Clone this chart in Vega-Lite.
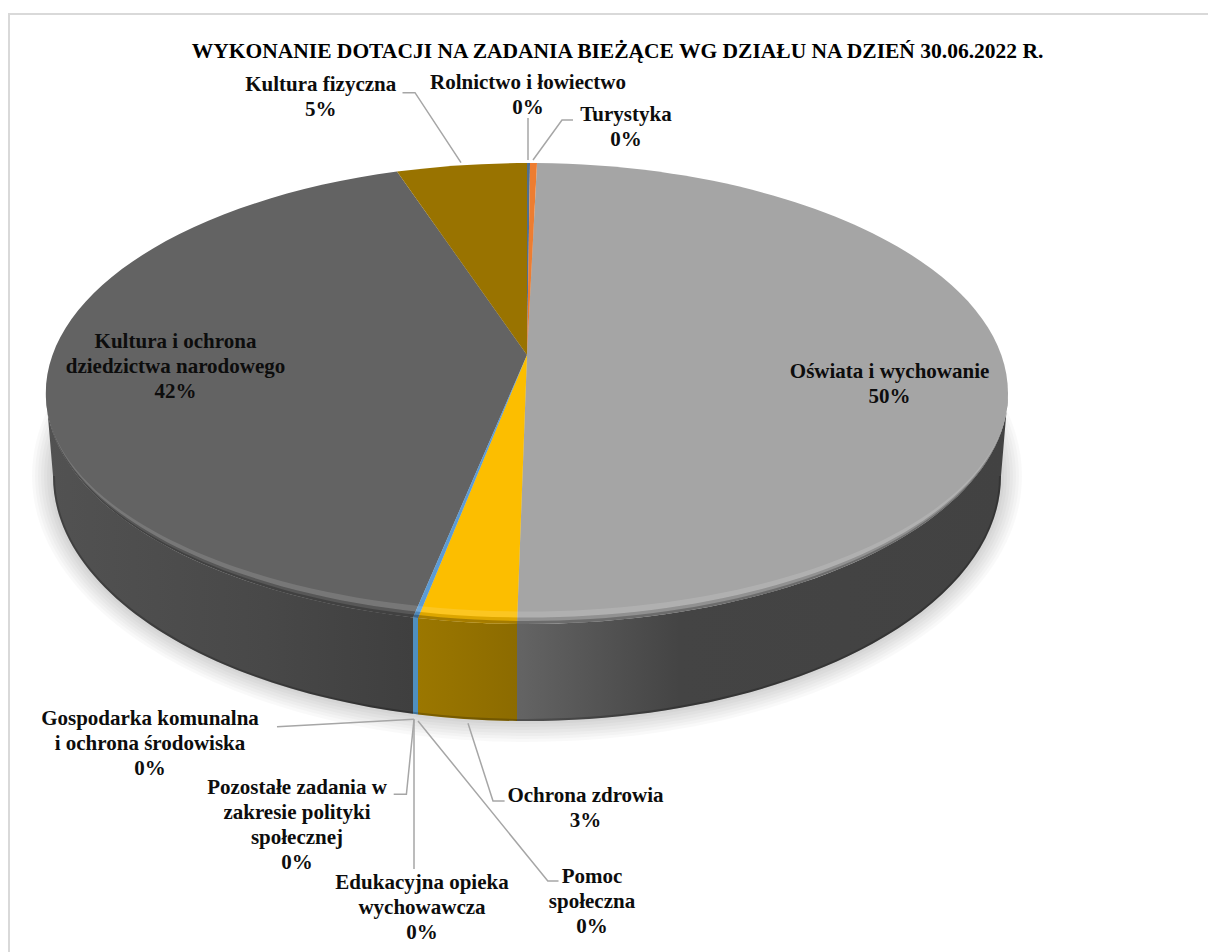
{
"$schema":"https://vega.github.io/schema/vega-lite/v6.json",
"width":1208,"height":952,
"autosize":{"type":"none"},
"padding":0,
"background":"white",
"config":{"view":{"stroke":null}},
"resolve":{"scale":{"shape":"independent"}},
"datasets":{
"halos":[{"halo":"h21","x":527,"y":476},{"halo":"h18","x":527,"y":476},{"halo":"h15","x":527,"y":476},{"halo":"h12","x":527,"y":476},{"halo":"h9","x":527,"y":476},{"halo":"h6","x":527,"y":476},{"halo":"h3","x":527,"y":476}],
"slices":[
{"dzial":"Oświata i wychowanie","udzial":50,"x":527,"y":393.5},
{"dzial":"Kultura i ochrona dziedzictwa narodowego","udzial":42,"x":527,"y":393.5},
{"dzial":"Kultura fizyczna","udzial":5,"x":527,"y":393.5},
{"dzial":"Ochrona zdrowia","udzial":3,"x":527,"y":393.5},
{"dzial":"Gospodarka komunalna i ochrona środowiska","udzial":0.2,"x":527,"y":393.5},
{"dzial":"Rolnictwo i łowiectwo","udzial":0.1,"x":527,"y":393.5},
{"dzial":"Turystyka","udzial":0.3,"x":527,"y":393.5}
],
"centre":[{"x":527,"y":393.5}],
"labels":[
{"x":320.7,"y":85,"label":"Kultura fizyczna\n5%"},
{"x":528,"y":83,"label":"Rolnictwo i łowiectwo\n0%"},
{"x":626,"y":115,"label":"Turystyka\n0%"},
{"x":889.6,"y":372,"label":"Oświata i wychowanie\n50%"},
{"x":175.5,"y":342,"label":"Kultura i ochrona\ndziedzictwa narodowego\n42%"},
{"x":150,"y":719,"label":"Gospodarka komunalna\ni ochrona środowiska\n0%"},
{"x":297,"y":788,"label":"Pozostałe zadania w\nzakresie polityki\nspołecznej\n0%"},
{"x":422,"y":883,"label":"Edukacyjna opieka\nwychowawcza\n0%"},
{"x":585.5,"y":796,"label":"Ochrona zdrowia\n3%"},
{"x":592,"y":877,"label":"Pomoc\nspołeczna\n0%"}
],
"leaders":[
{"to":"Kultura fizyczna","k":1,"x":402.5,"y":92.7},{"to":"Kultura fizyczna","k":2,"x":415,"y":92.7},{"to":"Kultura fizyczna","k":3,"x":461,"y":162.7},
{"to":"Rolnictwo","k":1,"x":528,"y":118},{"to":"Rolnictwo","k":2,"x":528,"y":160},
{"to":"Turystyka","k":1,"x":573,"y":120},{"to":"Turystyka","k":2,"x":562,"y":120},{"to":"Turystyka","k":3,"x":533,"y":160},
{"to":"Gospodarka","k":1,"x":277,"y":726.7},{"to":"Gospodarka","k":2,"x":414,"y":719.3},
{"to":"Pozostałe","k":1,"x":393.7,"y":794.3},{"to":"Pozostałe","k":2,"x":406.4,"y":794.3},{"to":"Pozostałe","k":3,"x":414,"y":719.3},
{"to":"Edukacyjna","k":1,"x":414,"y":869},{"to":"Edukacyjna","k":2,"x":414,"y":719.3},
{"to":"Pomoc","k":1,"x":558.5,"y":881},{"to":"Pomoc","k":2,"x":547.8,"y":881},{"to":"Pomoc","k":3,"x":418,"y":721},
{"to":"Ochrona zdrowia","k":1,"x":504.6,"y":801},{"to":"Ochrona zdrowia","k":2,"x":493,"y":801},{"to":"Ochrona zdrowia","k":3,"x":468,"y":723.3}
],
"frame":[{"x":9,"y":952},{"x":9,"y":14},{"x":1208,"y":14}],
"titleRow":[{"x":617.5,"y":52,"label":"WYKONANIE DOTACJI NA ZADANIA BIEŻĄCE WG DZIAŁU NA DZIEŃ 30.06.2022 R."}]
},
"encoding":{
"x":{"field":"x","type":"quantitative","scale":{"domain":[0,1208],"nice":false,"zero":false},"axis":null},
"y":{"field":"y","type":"quantitative","scale":{"domain":[952,0],"nice":false,"zero":false},"axis":null}
},
"layer":[
{"data":{"name":"frame"},"mark":{"type":"line","stroke":"#d9d9d9","strokeWidth":2}},
{"data":{"name":"halos"},"mark":{"type":"point","filled":true,"size":4,"opacity":0.022,"fill":"#000000"},
"encoding":{
"shape":{"field":"halo","legend":null,"scale":{"domain":["h21","h18","h15","h12","h9","h6","h3"],"range":[
"M-495 0A495 266 0 0 1 495 0A495 266 0 0 1 -495 0Z",
"M-492 0A492 263 0 0 1 492 0A492 263 0 0 1 -492 0Z",
"M-489 0A489 260 0 0 1 489 0A489 260 0 0 1 -489 0Z",
"M-486 0A486 257 0 0 1 486 0A486 257 0 0 1 -486 0Z",
"M-483 0A483 254 0 0 1 483 0A483 254 0 0 1 -483 0Z",
"M-480 0A480 251 0 0 1 480 0A480 251 0 0 1 -480 0Z",
"M-477 0A477 248 0 0 1 477 0A477 248 0 0 1 -477 0Z"]}}}},
{"data":{"name":"centre"},"mark":{"type":"point","filled":true,"size":4,"opacity":1,"shape":"M-10 230.4L-10 327.5A474 245 0 0 0 474 82.5L481 0A481 230.5 0 0 1 -10 230.4Z",
"fill":{"gradient":"linear","x1":0,"x2":1,"y1":0,"y2":0,"stops":[{"offset":0,"color":"#646464"},{"offset":0.33,"color":"#444444"},{"offset":1,"color":"#424242"}]}}},
{"data":{"name":"centre"},"mark":{"type":"point","filled":true,"size":4,"opacity":1,"shape":"M-481 0L-474 82.5A474 245 0 0 0 -114 320.3L-114 224A481 230.5 0 0 1 -481 0Z",
"fill":{"gradient":"linear","x1":0,"x2":1,"y1":0,"y2":0,"stops":[{"offset":0,"color":"#525252"},{"offset":0.6,"color":"#484848"},{"offset":1,"color":"#3f3f3f"}]}}},
{"data":{"name":"centre"},"mark":{"type":"point","filled":true,"size":4,"opacity":1,"shape":"M-109 224.5L-109 320.9A474 245 0 0 0 -10 327.5L-10 230.4A481 230.5 0 0 1 -109 224.5Z",
"fill":{"gradient":"linear","x1":0,"x2":1,"y1":0,"y2":0,"stops":[{"offset":0,"color":"#9b7700"},{"offset":1,"color":"#8c6b00"}]}}},
{"data":{"name":"centre"},"mark":{"type":"point","filled":true,"size":4,"opacity":1,"fill":"#4f8fbf","shape":"M-114 224L-114 320.3A474 245 0 0 0 -109 320.9L-109 224.5A481 230.5 0 0 1 -114 224Z"}},
{"data":{"name":"slices"},"mark":{"type":"point","filled":true,"size":4,"opacity":1},
"encoding":{
"color":{"field":"dzial","legend":null,"scale":{"domain":["Oświata i wychowanie","Kultura i ochrona dziedzictwa narodowego","Kultura fizyczna","Ochrona zdrowia","Gospodarka komunalna i ochrona środowiska","Rolnictwo i łowiectwo","Turystyka"],"range":["#a5a5a5","#636363","#997300","#fcbe00","#5b9bd5","#4f6f90","#ed7d31"]}},
"shape":{"field":"dzial","legend":null,"scale":{"domain":["Oświata i wychowanie","Kultura i ochrona dziedzictwa narodowego","Kultura fizyczna","Ochrona zdrowia","Gospodarka komunalna i ochrona środowiska","Rolnictwo i łowiectwo","Turystyka"],"range":[
"M0 -38.5L10 -230.4A481 230.5 0 0 1 481 0A481 230.5 0 0 1 -10 230.4Z",
"M0 -38.5L-114 224A481 230.5 0 0 1 -130 -221.9Z",
"M0 -38.5L-130 -221.9A481 230.5 0 0 1 0 -230.5Z",
"M0 -38.5L-10 230.4A481 230.5 0 0 1 -109 224.5Z",
"M0 -38.5L-109 224.5A481 230.5 0 0 1 -114 224Z",
"M0 -38.5L0 -230.5A481 230.5 0 0 1 3 -230.5Z",
"M0 -38.5L3 -230.5A481 230.5 0 0 1 10 -230.4Z"]}}}},
{"data":{"name":"centre"},"mark":{"type":"point","filled":true,"size":4,"opacity":0.13,"fill":"#ffffff","shape":"M-481 0A481 224 0 0 0 481 0A481 218 0 0 1 -481 0Z"}},
{"data":{"name":"centre"},"mark":{"type":"point","filled":true,"size":4,"opacity":0.12,"fill":"#000000","shape":"M-481 0A481 230.5 0 0 0 481 0A481 224 0 0 1 -481 0Z"}},
{"data":{"name":"centre"},"mark":{"type":"point","filled":true,"size":4,"opacity":0.25,"fill":"#000000","shape":"M-481 0A481 230.5 0 0 0 481 0A481 227.5 0 0 1 -481 0Z"}},
{"data":{"name":"centre"},"mark":{"type":"point","filled":false,"size":4,"opacity":0.2,"stroke":"#000000","strokeWidth":2,"shape":"M-473 82.5A473 244 0 0 0 473 82.5"}},
{"data":{"name":"leaders"},"mark":{"type":"line","stroke":"#a6a6a6","strokeWidth":1.5},
"encoding":{"detail":{"field":"to"},"order":{"field":"k","type":"quantitative"}}},
{"data":{"name":"labels"},"mark":{"type":"text","font":"Liberation Serif","fontWeight":"bold","fontSize":21,"lineHeight":25,"lineBreak":"\n","align":"center","baseline":"middle","fill":"#0d0d0d"},
"encoding":{"text":{"field":"label"}}},
{"data":{"name":"titleRow"},"mark":{"type":"text","font":"Liberation Serif","fontWeight":"bold","fontSize":21.5,"align":"center","baseline":"middle","fill":"#000000"},
"encoding":{"text":{"field":"label"}}}
]
}
